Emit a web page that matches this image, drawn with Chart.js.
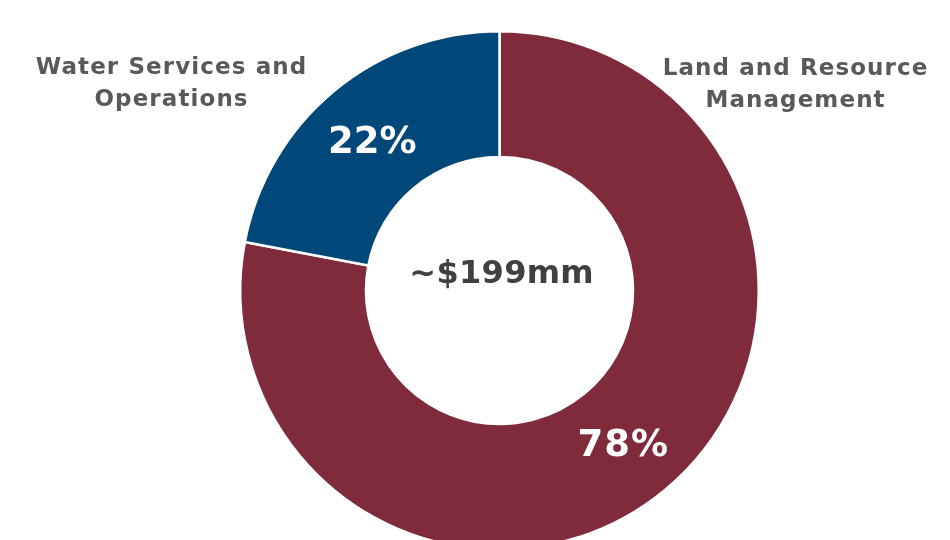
<!DOCTYPE html>
<html>
<head>
<meta charset="utf-8">
<script src="https://cdn.jsdelivr.net/npm/chart.js@4.4.1/dist/chart.umd.min.js"></script>
<style>
  html, body { margin: 0; padding: 0; background: #ffffff; overflow: hidden; width: 950px; height: 540px; }
  #wrap { position: absolute; left: 0; top: 0; width: 950px; height: 600px; }
</style>
</head>
<body>
<div id="wrap"><canvas id="c" width="950" height="600"></canvas></div>
<script>
// ---- data ----
const categories = ['Land and Resource Management', 'Water Services and Operations'];
const shares = [78, 22];
const valueLabels = ['78%', '22%'];
const categoryLines = [['Land and Resource', 'Management'], ['Water Services and', 'Operations']];
const centerLabel = '~$199mm';

// ---- styles ----
const sliceColors = ['#7F2B3C', '#00477A'];
const FONT = '"DejaVu Sans", sans-serif';

function spacedText(ctx, text, x, y, spacing) {
  if ('letterSpacing' in ctx) {
    ctx.letterSpacing = spacing + 'px';
    ctx.fillText(text, x + spacing / 2, y);
    ctx.letterSpacing = '0px';
  } else {
    ctx.fillText(text, x, y);
  }
}

const labelPlugin = {
  id: 'labels',
  afterDatasetsDraw(chart) {
    const ctx = chart.ctx;
    const meta = chart.getDatasetMeta(0);
    ctx.save();
    ctx.textAlign = 'center';
    ctx.textBaseline = 'alphabetic';
    // percentage labels at slice centroids
    ctx.fillStyle = '#ffffff';
    ctx.font = 'bold 37px ' + FONT;
    meta.data.forEach((arc, i) => {
      const p = arc.tooltipPosition();
      spacedText(ctx, valueLabels[i], p.x - 2, p.y + 14, i === 0 ? 1 : 0);
    });
    // centre label
    const cx = meta.data[0].x, cy = meta.data[0].y;
    ctx.fillStyle = '#404040';
    ctx.font = 'bold 32px ' + FONT;
    spacedText(ctx, centerLabel, cx + 2, cy - 8, 0.3);
    // category labels
    ctx.fillStyle = '#595959';
    ctx.font = 'bold 23px ' + FONT;
    const anchors = [{x: 795, y: 75}, {x: 171, y: 74}];
    categoryLines.forEach((lines, i) => {
      lines.forEach((t, j) => spacedText(ctx, t, anchors[i].x, anchors[i].y + j * 32, 1.1));
    });
    ctx.restore();
  }
};

new Chart(document.getElementById('c'), {
  type: 'doughnut',
  data: {
    labels: categories,
    datasets: [{
      data: shares,
      backgroundColor: sliceColors,
      borderColor: '#ffffff',
      borderWidth: 2.5,
      hoverOffset: 0
    }]
  },
  options: {
    responsive: false,
    animation: false,
    cutout: '51.5%',
    layout: { padding: { top: 30, bottom: 49, left: 49, right: 0 } },
    plugins: { legend: { display: false }, tooltip: { enabled: false } }
  },
  plugins: [labelPlugin]
});
</script>
</body>
</html>
